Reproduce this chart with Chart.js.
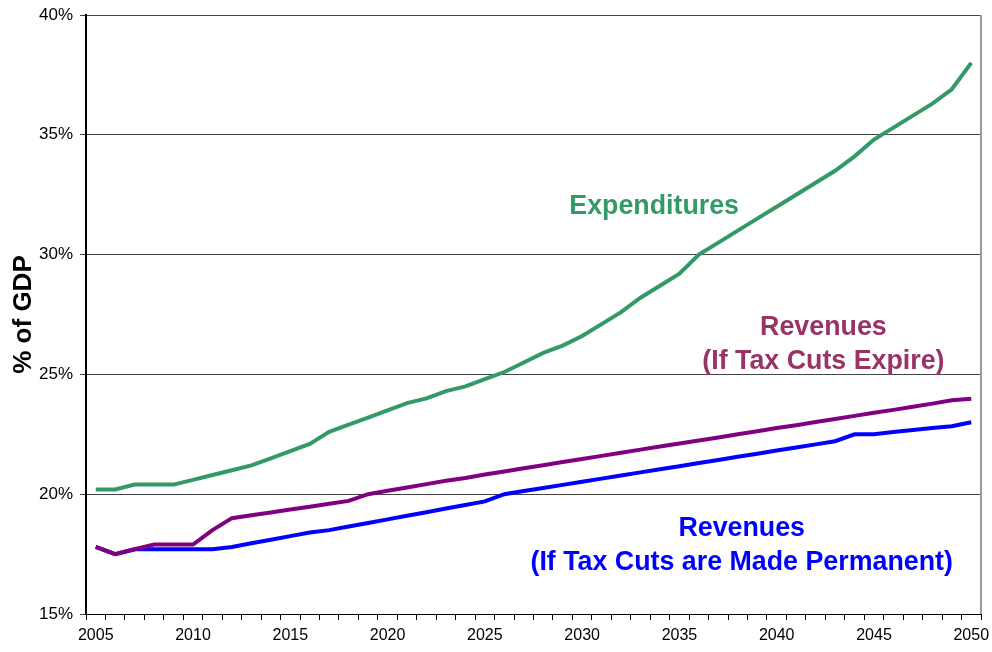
<!DOCTYPE html>
<html>
<head>
<meta charset="utf-8">
<script src="https://cdn.jsdelivr.net/npm/chart.js@4"></script>
<style>
  html, body { margin: 0; padding: 0; background: #fff; }
  #wrap { width: 992px; height: 652px; }
</style>
</head>
<body>
<div id="wrap"><canvas id="myChart"></canvas></div>
<script>
var years = [];
for (var yr = 2005; yr <= 2050; yr++) years.push(String(yr));

var yTicks = [15, 20, 25, 30, 35, 40];

var expenditures = [20.2, 20.2, 20.4, 20.4, 20.4, 20.6, 20.8, 21.0, 21.2, 21.5,
  21.8, 22.1, 22.6, 22.9, 23.2, 23.5, 23.8, 24.0, 24.3, 24.5,
  24.8, 25.1, 25.5, 25.9, 26.2, 26.6, 27.1, 27.6, 28.2, 28.7,
  29.2, 30.0, 30.5, 31.0, 31.5, 32.0, 32.5, 33.0, 33.5, 34.1,
  34.8, 35.3, 35.8, 36.3, 36.9, 38.0];

var revenuesExpire = [17.8, 17.5, 17.7, 17.9, 17.9, 17.9, 18.5, 19.0, 19.12, 19.24,
  19.36, 19.48, 19.6, 19.72, 20.0, 20.14, 20.28, 20.42, 20.56, 20.68,
  20.82, 20.95, 21.08, 21.21, 21.34, 21.47, 21.6, 21.73, 21.86, 21.99,
  22.12, 22.24, 22.37, 22.5, 22.63, 22.76, 22.88, 23.01, 23.14, 23.27,
  23.4, 23.52, 23.65, 23.78, 23.92, 23.98];

var revenuesPermanent = [17.8, 17.5, 17.7, 17.7, 17.7, 17.7, 17.7, 17.8, 17.95, 18.1,
  18.25, 18.4, 18.5, 18.65, 18.8, 18.95, 19.1, 19.25, 19.4, 19.55,
  19.7, 20.0, 20.13, 20.26, 20.39, 20.52, 20.65, 20.78, 20.91, 21.04,
  21.17, 21.3, 21.43, 21.56, 21.69, 21.82, 21.95, 22.08, 22.21, 22.5,
  22.5, 22.6, 22.68, 22.76, 22.84, 23.0];

// text labels placed in data coordinates
var notes = [
  { lines: ['Expenditures'], year: 28.7, value: 32.0, color: '#339966' },
  { lines: ['Revenues', '(If Tax Cuts Expire)'], year: 37.4, value: 26.95, color: '#993366' },
  { lines: ['Revenues', '(If Tax Cuts are Made Permanent)'], year: 33.2, value: 18.58, color: '#0000ff' }
];

var FONT = '"Liberation Sans", Arial, Helvetica, sans-serif';

var notesPlugin = {
  id: 'notes',
  afterDatasetsDraw: function (chart) {
    var c = chart.ctx, xs = chart.scales.x, ys = chart.scales.y;
    c.save();
    c.font = 'bold 26.8px ' + FONT;
    c.textAlign = 'center';
    c.textBaseline = 'middle';
    notes.forEach(function (n) {
      var x = xs.getPixelForValue(n.year);
      var y = ys.getPixelForValue(n.value);
      n.lines.forEach(function (t, i) {
        c.fillStyle = n.color;
        c.fillText(t, x, y + i * 34);
      });
    });
    // right frame
    var a = chart.chartArea;
    c.strokeStyle = '#999';
    c.lineWidth = 2;
    c.beginPath();
    c.moveTo(a.right, a.top);
    c.lineTo(a.right, a.bottom);
    c.stroke();
    c.restore();
  }
};

var ctx = document.getElementById('myChart');
var myChart = new Chart(ctx, {
  type: 'line',
  data: {
    labels: years,
    datasets: [{
      label: 'Expenditures',
      data: expenditures,
      borderColor: '#339966',
      borderWidth: 4,
      pointRadius: 0,
      tension: 0,
      order: 3
    }, {
      label: 'Revenues (If Tax Cuts Expire)',
      data: revenuesExpire,
      borderColor: '#800080',
      borderWidth: 4,
      pointRadius: 0,
      tension: 0,
      order: 1
    }, {
      label: 'Revenues (If Tax Cuts are Made Permanent)',
      data: revenuesPermanent,
      borderColor: '#0000ff',
      borderWidth: 4,
      pointRadius: 0,
      tension: 0,
      order: 2
    }]
  },
  options: {
    responsive: true,
    maintainAspectRatio: false,
    animation: false,
    events: [],
    layout: { padding: { top: 15, right: 11, bottom: 0, left: 0 } },
    plugins: { legend: { display: false }, tooltip: { enabled: false } },
    scales: {
      x: {
        type: 'category',
        offset: true,
        afterFit: function (s) { s.height = 38; s.paddingLeft = 0; s.paddingRight = 0; },
        grid: {
          offset: true,
          drawOnChartArea: false,
          drawTicks: true,
          tickLength: 6,
          color: '#000'
        },
        border: { color: '#000', width: 1 },
        ticks: {
          autoSkip: false,
          maxRotation: 0,
          padding: 6,
          color: '#000',
          font: { family: FONT, size: 16 },
          callback: function (v, i) {
            var y = years[i];
            return (+y) % 5 === 0 ? y : '';
          }
        }
      },
      y: {
        min: 15,
        max: 40,
        afterFit: function (s) { s.width = 86; s.paddingTop = 0; s.paddingBottom = 0; },
        afterBuildTicks: function (s) {
          s.ticks = yTicks.map(function (v) { return { value: v }; });
        },
        grid: {
          color: '#444',
          lineWidth: 1,
          tickLength: 6
        },
        border: { color: '#000', width: 2 },
        ticks: {
          padding: 7,
          color: '#000',
          font: { family: FONT, size: 17 },
          callback: function (v) { return v + '%'; }
        },
        title: {
          display: true,
          text: '% of GDP',
          color: '#000',
          padding: { top: 8, bottom: 0 },
          font: { family: FONT, size: 26, weight: 'bold' }
        }
      }
    }
  },
  plugins: [notesPlugin]
});
</script>
</body>
</html>
